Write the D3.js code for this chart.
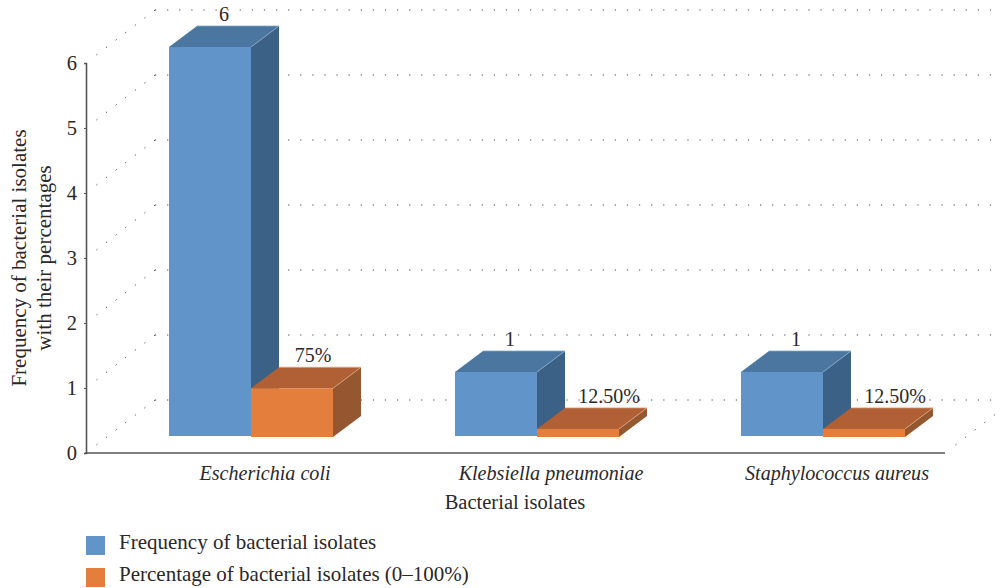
<!DOCTYPE html>
<html>
<head>
<meta charset="utf-8">
<script src="https://cdn.jsdelivr.net/npm/d3@7"></script>
<style>
  html, body { margin: 0; padding: 0; background: #fff; overflow: hidden; }
  text { font-family: "Liberation Serif", serif; fill: #2b2829; }
</style>
</head>
<body>
<div id="chart"></div>
<script>
let categories = ["Escherichia coli", "Klebsiella pneumoniae", "Staphylococcus aureus"]
let frequency = [6, 1, 1]
let percentage = [0.75, 0.125, 0.125]
let percentLabels = ["75%", "12.50%", "12.50%"]
let yTicks = [0, 1, 2, 3, 4, 5, 6]

let width = 1001
let height = 588

//the 3d look: how far the back wall and the bar tops are shifted
let wall = { dx: 69, dy: -53 }
let depth = { dx: 28, dy: -21 }

let svg = d3.select("#chart").append("svg")
  .attr("width", width)
  .attr("height", height)
  .style("display", "block")

//axis scale sits on the front edge, bars stand a bit further in
let yAxisScale = d3.scaleLinear().domain([0, 6]).range([453, 63])
let yBar = d3.scaleLinear().domain([0, 6]).range([437, 47])
let xBand = d3.scaleBand().domain(categories).range([108, 966])
let barWidth = 82

//dotted wall and side lines
let grid = svg.append("g")
  .attr("fill", "none")
  .attr("stroke", "#444")
  .attr("stroke-width", 1)
  .attr("stroke-dasharray", "1.2 10.9")

yTicks.forEach(t => {
  let y = yAxisScale(t) + wall.dy
  grid.append("line")
    .attr("x1", 86 + wall.dx).attr("y1", y)
    .attr("x2", width + 20).attr("y2", y)
  grid.append("line")
    .attr("x1", 86 + wall.dx).attr("y1", y)
    .attr("x2", 95).attr("y2", y - wall.dy * 60 / 69)
})
grid.append("line")
  .attr("x1", 945 + wall.dx).attr("y1", yAxisScale(0) + wall.dy)
  .attr("x2", 954).attr("y2", yAxisScale(0) + wall.dy - wall.dy * 60 / 69)

//draws one box: front, top and side faces
function drawBox(g, x0, value, colors) {
  let x1 = x0 + barWidth
  let y0 = yBar(0)
  let yT = yBar(value)
  let pts = p => p.map(d => d.join(",")).join(" ")

  g.append("polygon")
    .attr("points", pts([[x1, yT], [x1 + depth.dx, yT + depth.dy], [x1 + depth.dx, y0 + depth.dy], [x1, y0]]))
    .attr("fill", colors.side)
  g.append("polygon")
    .attr("points", pts([[x0, yT], [x0 + depth.dx, yT + depth.dy], [x1 + depth.dx, yT + depth.dy], [x1, yT]]))
    .attr("fill", colors.top)
  g.append("polyline")
    .attr("points", pts([[x0 + depth.dx, yT + depth.dy], [x1 + depth.dx, yT + depth.dy], [x1, yT]]))
    .attr("fill", "none")
    .attr("stroke", colors.edge)
    .attr("stroke-width", 0.8)
  g.append("rect")
    .attr("x", x0).attr("y", yT)
    .attr("width", barWidth).attr("height", y0 - yT + colors.drop)
    .attr("fill", colors.front)
}

let blue = { front: "#6194c9", top: "#4a769f", side: "#3c6187", edge: "#86a8cb", drop: -1 }
let orange = { front: "#e47e3d", top: "#b06034", side: "#95572f", edge: "#d9a27e", drop: 0 }

let bars = svg.append("g")
categories.forEach((c, i) => {
  let x = xBand(c) + xBand.bandwidth() / 2
  drawBox(bars, x - barWidth, frequency[i], blue)
  drawBox(bars, x, percentage[i], orange)
})

//value labels, the percentage ones are nudged right like in the original
let labels = svg.append("g")
  .attr("font-size", 20)
  .attr("text-anchor", "middle")

categories.forEach((c, i) => {
  let x = xBand(c) + xBand.bandwidth() / 2
  labels.append("text")
    .attr("x", x - barWidth / 2 + depth.dx / 2)
    .attr("y", yBar(frequency[i]) + depth.dy - 5)
    .text(frequency[i])
  labels.append("text")
    .attr("x", x + barWidth / 2 + depth.dx / 2 + (i == 0 ? 7 : 17))
    .attr("y", yBar(percentage[i]) + depth.dy - 5)
    .text(percentLabels[i])
})

//axes
let yAxis = d3.axisLeft(yAxisScale).tickValues(yTicks).tickSize(2).tickPadding(7).tickFormat(d3.format("d"))
let yG = svg.append("g").attr("transform", "translate(86,0)").call(yAxis)
yG.select(".domain").attr("stroke", "#555").attr("stroke-width", 1.6)
yG.selectAll(".tick line").attr("stroke", "#555")
yG.selectAll("text").attr("font-size", 20.5).attr("font-family", "Liberation Serif").attr("fill", "#2b2829")

svg.append("line")
  .attr("x1", 85).attr("x2", 945)
  .attr("y1", yAxisScale(0)).attr("y2", yAxisScale(0))
  .attr("stroke", "#555").attr("stroke-width", 1.6)

categories.forEach(c => {
  svg.append("text")
    .attr("x", xBand(c) + xBand.bandwidth() / 2 + depth.dx / 2)
    .attr("y", 480)
    .attr("text-anchor", "middle")
    .attr("font-size", 20.1)
    .attr("font-style", "italic")
    .text(c)
})

svg.append("text")
  .attr("x", 515).attr("y", 509)
  .attr("text-anchor", "middle")
  .attr("font-size", 20.5)
  .text("Bacterial isolates")

//y title is two lines
let yTitle = svg.append("text")
  .attr("transform", "translate(26,258) rotate(-90)")
  .attr("text-anchor", "middle")
  .attr("font-size", 21)
yTitle.append("tspan").attr("x", 0).attr("dy", 0).text("Frequency of bacterial isolates")
yTitle.append("tspan").attr("x", 0).attr("dy", 25).text("with their percentages")

//legend
let legendNames = ["Frequency of bacterial isolates", "Percentage of bacterial isolates (0\u2013100%)"]
let legendColors = [blue.front, orange.front]
legendNames.forEach((name, i) => {
  svg.append("rect")
    .attr("x", 86).attr("y", 536 + i * 32)
    .attr("width", 19).attr("height", 19)
    .attr("fill", legendColors[i])
  svg.append("text")
    .attr("x", 119).attr("y", 549 + i * 32)
    .attr("font-size", 21)
    .text(name)
})
</script>
</body>
</html>
